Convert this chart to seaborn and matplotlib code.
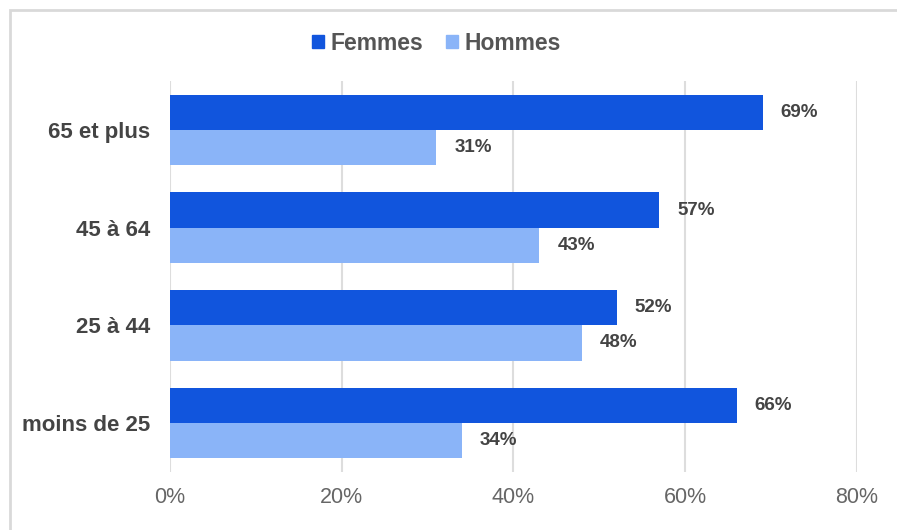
import matplotlib
matplotlib.use("Agg")
import matplotlib.pyplot as plt
import matplotlib.patches as mpatches
import pandas as pd
import seaborn as sns

# data
age_groups = ["65 et plus", "45 à 64", "25 à 44", "moins de 25"]
femmes = [69, 57, 52, 66]
hommes = [31, 43, 48, 34]
x_ticks = [0, 20, 40, 60, 80]
x_tick_labels = ["0%", "20%", "40%", "60%", "80%"]

df = pd.DataFrame({
    "age": age_groups * 2,
    "sexe": ["Femmes"] * len(age_groups) + ["Hommes"] * len(age_groups),
    "part": femmes + hommes,
})

sns.set_theme(style="white")
plt.rcParams["font.family"] = ["Liberation Sans", "DejaVu Sans"]

fig = plt.figure(figsize=(8.97, 5.30), dpi=100)
ax = fig.add_axes([0.1895, 0.1094, 0.7659, 0.7378])

palette = {"Femmes": "#1155dd", "Hommes": "#8ab4f8"}
sns.barplot(data=df, y="age", x="part", hue="sexe", order=age_groups,
            palette=palette, orient="h", width=0.72, saturation=1,
            edgecolor="none", ax=ax, zorder=3)

# value labels
for container in ax.containers:
    vals = [int(round(b.get_width())) for b in container]
    ax.bar_label(container, labels=[f"{v}%" for v in vals], padding=13,
                 fontsize=13.5, fontweight="bold", color="#444444")

ax.set_xlim(0, 80)
ax.set_ylim(3.5, -0.5)
ax.set_xticks(x_ticks)
ax.set_xticklabels(x_tick_labels, fontsize=15.5, color="#666666")
ax.tick_params(axis="x", length=0, pad=11)
ax.tick_params(axis="y", length=0, pad=14, labelsize=16, labelcolor="#444444")
for lbl in ax.get_yticklabels():
    lbl.set_fontweight("bold")
ax.set_xlabel("")
ax.set_ylabel("")
ax.xaxis.grid(True, color="#dddddd", linewidth=1.5, zorder=0)
ax.yaxis.grid(False)
for s in ax.spines.values():
    s.set_visible(False)

# legend on top
ax.get_legend().remove()
handles = [mpatches.Patch(color=palette[k], label=k) for k in ["Femmes", "Hommes"]]
leg = fig.legend(handles=handles, loc="center", bbox_to_anchor=(0.487, 0.918),
                 ncol=2, frameon=False, handlelength=0.5, handleheight=0.5,
                 handletextpad=0.3, columnspacing=1.0, prop={"size": 16.5, "weight": "bold"})
for t in leg.get_texts():
    t.set_color("#555555")

# light frame around the chart (cut off at right and bottom)
fig.patches.append(mpatches.Rectangle((10 / 897, -0.1), 1.2, 1 - 10 / 530 + 0.1,
                                      transform=fig.transFigure, fill=False,
                                      edgecolor="#d9d9d9", linewidth=2))

fig.savefig("out.png", dpi=100)
